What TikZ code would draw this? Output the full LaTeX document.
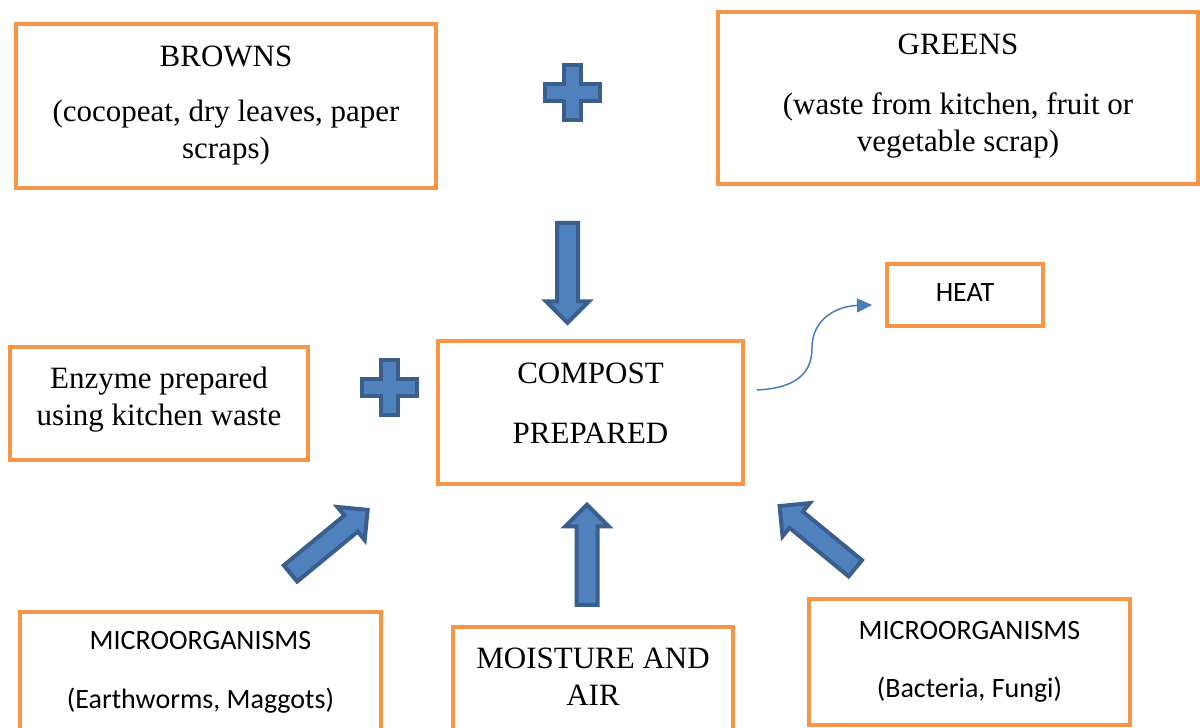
\documentclass[tikz,border=0pt]{standalone}
\usepackage{fontspec}
\setmainfont{Liberation Serif}
\newfontfamily\calibri{Carlito}
\usetikzlibrary{arrows.meta,shapes.arrows}
\definecolor{boxorange}{HTML}{F79646}
\definecolor{arrowfill}{HTML}{4F81BD}
\definecolor{arrowedge}{HTML}{3A5F8D}
\definecolor{heatblue}{HTML}{4A7EBB}
\tikzset{>=Stealth,
  box/.style={draw=boxorange, line width=4pt, align=center, inner sep=0pt, font=\fontsize{31}{37}\selectfont},
  cbox/.style={box, font=\calibri\fontsize{28}{34}\selectfont},
  blkarrow/.style={single arrow, draw=arrowedge, fill=arrowfill, line width=4pt, inner xsep=0pt, inner ysep=8.5pt,
    single arrow head extend=11pt, minimum height=100pt},
  plussign/.pic={
    \draw[draw=arrowedge, fill=arrowfill, line width=4pt] (-8.5,-27.5) -- (8.5,-27.5) -- (8.5,-8.5) -- (27.5,-8.5)
      -- (27.5,8.5) -- (8.5,8.5) -- (8.5,27.5) -- (-8.5,27.5) -- (-8.5,8.5) -- (-27.5,8.5) -- (-27.5,-8.5) -- (-8.5,-8.5) -- cycle;
  }}
\begin{document}
\begin{tikzpicture}[x=1pt, y=-1pt]
  \useasboundingbox (0,0) rectangle (1200,728);
  \clip (0,0) rectangle (1200,728);
  % ingredients
  \node[box, minimum width=420pt, minimum height=164pt] (browns) at (226,106)
    {BROWNS\\[18pt](cocopeat, dry leaves, paper\\scraps)};
  \node[box, minimum width=480pt, minimum height=172pt] (greens) at (958,98)
    {GREENS\\[23pt](waste from kitchen, fruit or\\vegetable scrap)\rule[-10pt]{0pt}{10pt}};
  \pic at (572.5,92.5) {plussign};
  \node[blkarrow, rotate=-90] (down) at (567.5,267.5) {};
  % compost and helpers
  \node[box, minimum width=305pt, minimum height=143pt] (compost) at (590.5,412.5)
    {COMPOST\\[23pt]PREPARED\rule[-18pt]{0pt}{18pt}};
  \node[box, minimum width=298pt, minimum height=113pt] (enzyme) at (159,403.5)
    {Enzyme prepared\\using kitchen waste\rule[-15pt]{0pt}{15pt}};
  \pic at (389,387) {plussign};
  \node[cbox, minimum width=156pt, minimum height=62pt] (heat) at (965,295) {HEAT\rule[-4pt]{0pt}{4pt}};
  \coordinate (heatstart) at (757,390);
  \draw[heatblue, line width=1.5pt, -{Triangle[length=15pt, width=14pt]}] (heatstart)
    .. controls (800,388) and (812,370) .. (812,348) .. controls (812,318) and (838,306) .. ([xshift=-13pt, yshift=-10pt]heat.west);
  % bottom row
  \node[cbox, minimum width=361pt, minimum height=120pt] (microa) at (200.5,672)
    {MICROORGANISMS\\[25pt](Earthworms, Maggots)};
  \node[box, minimum width=280pt, minimum height=110pt] (moist) at (593,682)
    {MOISTURE AND\\AIR\rule[-10pt]{0pt}{10pt}};
  \node[cbox, minimum width=321pt, minimum height=126pt] (microb) at (969.5,662)
    {MICROORGANISMS\\[24pt](Bacteria, Fungi)};
  \node[blkarrow, rotate=39.5] (upleft) at (325,545) {};
  \node[blkarrow, rotate=90] (up) at (587,560) {};
  \node[blkarrow, rotate=140.6, minimum height=98pt] (upright) at (821.5,540.5) {};
\end{tikzpicture}
\end{document}
